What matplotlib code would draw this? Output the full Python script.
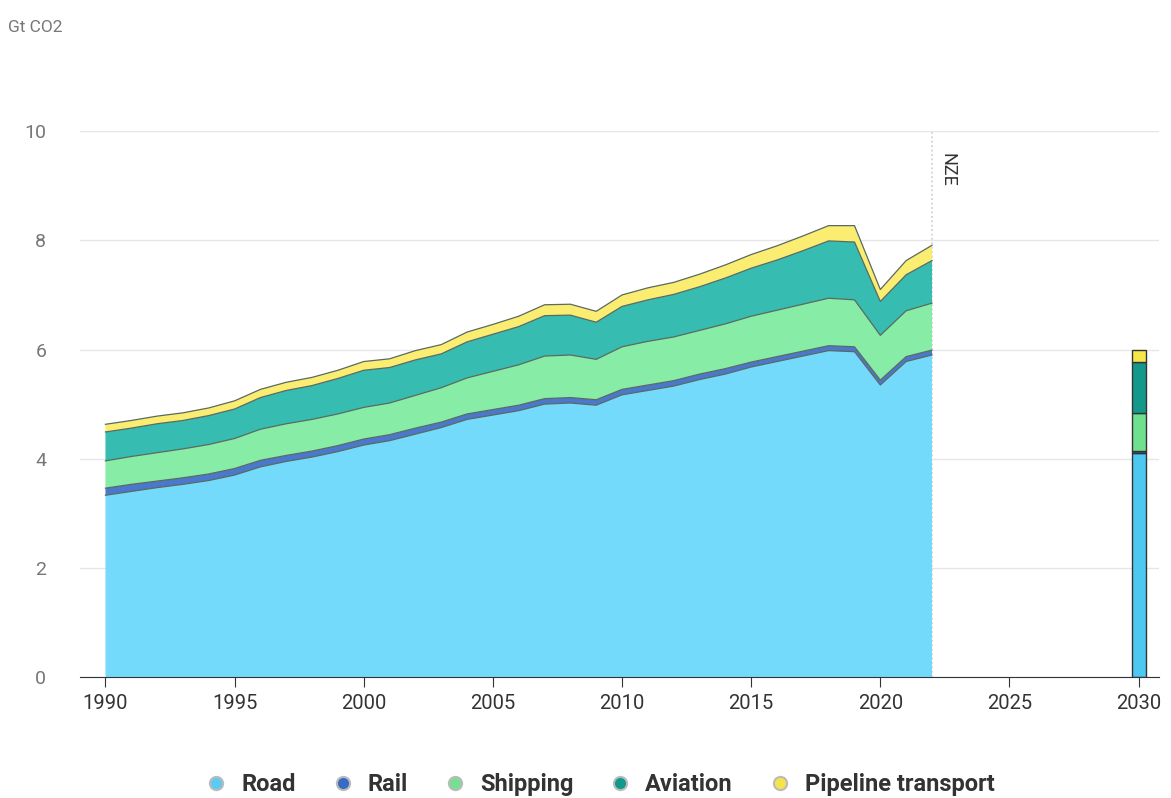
import numpy as np
import matplotlib.pyplot as plt
from matplotlib import rcParams
from matplotlib.lines import Line2D

rcParams['font.family'] = ['Roboto', 'DejaVu Sans']

years = np.arange(1990, 2023)
road = [3.33, 3.40, 3.47, 3.53, 3.60, 3.70, 3.85, 3.95, 4.03, 4.13, 4.25, 4.33, 4.45,
        4.57, 4.72, 4.80, 4.88, 5.00, 5.02, 4.98, 5.17, 5.25, 5.33, 5.45, 5.55, 5.68,
        5.78, 5.88, 5.98, 5.96, 5.35, 5.78, 5.90]
rail = [0.13, 0.13, 0.12, 0.12, 0.12, 0.12, 0.12, 0.11, 0.11, 0.11, 0.11, 0.11, 0.11,
        0.10, 0.10, 0.10, 0.10, 0.10, 0.10, 0.10, 0.10, 0.10, 0.10, 0.10, 0.10, 0.09,
        0.09, 0.09, 0.09, 0.09, 0.09, 0.09, 0.09]
shipping = [0.50, 0.51, 0.52, 0.53, 0.54, 0.55, 0.57, 0.58, 0.58, 0.58, 0.58, 0.58, 0.60,
            0.63, 0.66, 0.70, 0.74, 0.78, 0.78, 0.74, 0.78, 0.80, 0.80, 0.80, 0.82, 0.84,
            0.85, 0.86, 0.87, 0.86, 0.82, 0.84, 0.86]
aviation = [0.53, 0.52, 0.53, 0.52, 0.53, 0.54, 0.58, 0.61, 0.62, 0.65, 0.68, 0.65, 0.65,
            0.62, 0.66, 0.68, 0.70, 0.74, 0.73, 0.68, 0.74, 0.76, 0.78, 0.80, 0.84, 0.88,
            0.92, 0.98, 1.05, 1.06, 0.62, 0.66, 0.78]
pipeline = [0.14, 0.14, 0.14, 0.14, 0.14, 0.15, 0.15, 0.15, 0.15, 0.15, 0.16, 0.16, 0.17,
            0.17, 0.18, 0.18, 0.19, 0.20, 0.20, 0.20, 0.21, 0.22, 0.22, 0.23, 0.24, 0.25,
            0.26, 0.27, 0.28, 0.30, 0.22, 0.26, 0.28]

# NZE 2030 bar
nze_year = 2030
nze_values = [4.10, 0.05, 0.68, 0.95, 0.22]

labels = ["Road", "Rail", "Shipping", "Aviation", "Pipeline transport"]
area_colors = ["#74dafc", "#4a78cc", "#86eca6", "#36bcb0", "#fbec72"]
bar_colors = ["#4cc8f2", "#2b5cb8", "#6fe08e", "#12998c", "#f5e64a"]
legend_colors = ["#5ccaf2", "#3a6bc4", "#74e094", "#12998c", "#f2e44a"]

fig = plt.figure(figsize=(11.71, 7.98), dpi=100)
ax = fig.add_axes([0.068, 0.1516, 0.922, 0.684])

series = [road, rail, shipping, aviation, pipeline]
ax.stackplot(years, *series, colors=area_colors, linewidth=0)
# boundary lines between layers
cum = np.cumsum(np.array(series), axis=0)
for row in cum:
    ax.plot(years, row, color="#5a6a60", linewidth=0.9)

bottom = 0
for v, c in zip(nze_values, bar_colors):
    ax.bar(nze_year, v, bottom=bottom, width=0.55, color=c, edgecolor="#333333", linewidth=1.0)
    bottom += v

ax.set_xlim(1989.0, 2030.8)
ax.set_ylim(0, 10)
ax.set_yticks([0, 2, 4, 6, 8, 10])
ax.set_xticks(range(1990, 2031, 5))
ax.grid(axis="y", color="#e6e6e6", linewidth=1)
ax.set_axisbelow(True)
for s in ["top", "right", "left"]:
    ax.spines[s].set_visible(False)
ax.spines["bottom"].set_color("#333333")
ax.tick_params(axis="y", length=0, labelsize=14, labelcolor="#777777", pad=24)
ax.tick_params(axis="x", length=7, color="#333333", labelsize=14.5, labelcolor="#333333", pad=5)

# NZE marker
ax.axvline(2022, color="#cccccc", linestyle=":", linewidth=1.2, zorder=0)
ax.text(2022.25, 9.6, "NZE", rotation=-90, va="top", ha="left", fontsize=13, color="#333333")

fig.text(0.007, 0.975, "Gt CO2", fontsize=12.5, color="#777777", va="top")

handles = [Line2D([0], [0], marker="o", linestyle="None", markersize=9.5,
                  markerfacecolor=c, markeredgecolor="#bbbbbb", markeredgewidth=1.5)
           for c in legend_colors]
fig.legend(handles, labels, loc="lower center", bbox_to_anchor=(0.512, -0.024), ncol=5,
           frameon=False, prop={"size": 17, "weight": "bold"}, labelcolor="#333333",
           handletextpad=0.55, columnspacing=1.5, handlelength=1.0)

fig.savefig("out.png", dpi=100)
